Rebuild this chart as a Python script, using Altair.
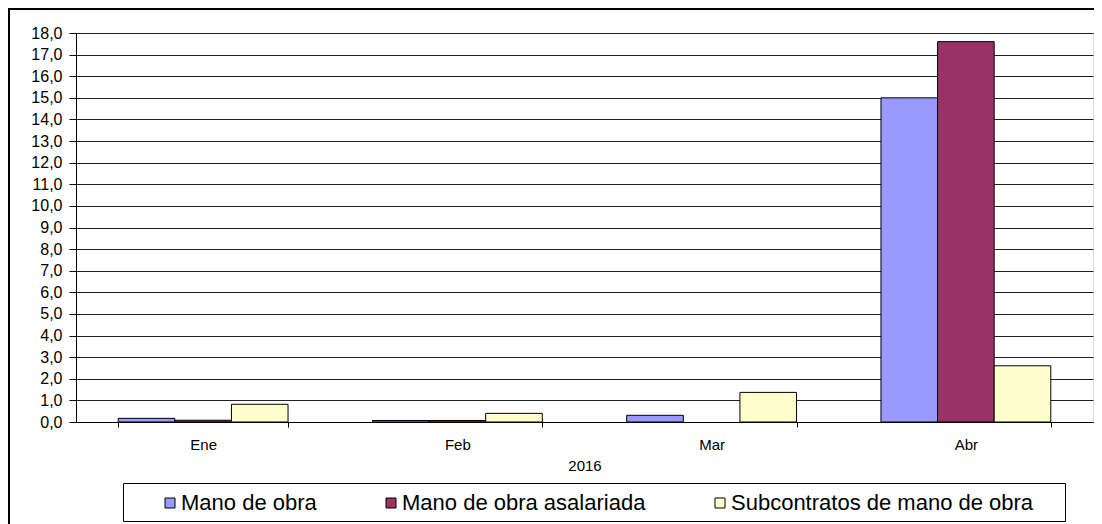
import altair as alt
import pandas as pd

months = ["Ene", "Feb", "Mar", "Abr"]
series = ["Mano de obra", "Mano de obra asalariada", "Subcontratos de mano de obra"]
mano_de_obra = [0.17, 0.07, 0.31, 15.0]
asalariada = [0.08, 0.07, 0.0, 17.6]
subcontratos = [0.82, 0.40, 1.37, 2.6]
colors = ["#9999FF", "#993366", "#FFFFCC"]
y_ticks = list(range(0, 19))

rows = []
for i, m in enumerate(months):
    for s, vals in zip(series, [mano_de_obra, asalariada, subcontratos]):
        rows.append({"mes": m, "serie": s, "valor": vals[i]})
df = pd.DataFrame(rows)

FONT = "Liberation Sans"
W, H = 1017, 389

bars = alt.Chart(df).transform_filter(alt.datum.valor > 0).mark_bar(stroke="black", strokeWidth=1).encode(
    x=alt.X("mes:N", sort=months,
            scale=alt.Scale(domain=months, paddingInner=0.332, paddingOuter=0.166),
            axis=alt.Axis(title="2016", labelAngle=0, tickBand="extent",
                          labelFontSize=15, titleFontSize=15, titleFontWeight="normal",
                          labelPadding=10, titlePadding=6, tickSize=5,
                          domainColor="black", tickColor="black",
                          labelColor="black", titleColor="black",
                          labelFont=FONT, titleFont=FONT)),
    xOffset=alt.XOffset("serie:N", sort=series,
                        scale=alt.Scale(domain=series, paddingInner=0, paddingOuter=0)),
    y=alt.Y("valor:Q", stack=None,
            scale=alt.Scale(domain=[0, 18], nice=False),
            axis=alt.Axis(title=None, values=y_ticks,
                          labelExpr="replace(format(datum.value, '.1f'), '.', ',')",
                          labelFontSize=16, labelFont=FONT, labelColor="black",
                          tickSize=7, labelPadding=7, tickColor="black",
                          domainColor="black", gridColor="#202020", gridWidth=1,
                          grid=True)),
    color=alt.Color("serie:N", sort=series,
                    scale=alt.Scale(domain=series, range=colors),
                    legend=alt.Legend(title=None, orient="none", direction="horizontal",
                                      legendX=80, legendY=459,
                                      symbolType="square", symbolSize=100,
                                      symbolStrokeColor="black", symbolStrokeWidth=1,
                                      symbolOpacity=1, symbolOffset=3,
                                      labelFontSize=22, labelFont=FONT, labelColor="black",
                                      labelOffset=0, columnPadding=60, labelLimit=400)),
)

deco = pd.DataFrame({"k": [0]})
outer = alt.Chart(deco).mark_rect(fill=None, stroke="black", strokeWidth=2).encode(
    x=alt.value(-67), x2=alt.value(1100), y=alt.value(-24), y2=alt.value(600)
)
legend_box = alt.Chart(deco).mark_rect(fill="white", stroke="black", strokeWidth=1).encode(
    x=alt.value(47.5), x2=alt.value(989.5), y=alt.value(450.5), y2=alt.value(488.5)
)

chart = alt.layer(outer, legend_box, bars).properties(
    width=W, height=H,
    autosize=alt.AutoSizeParams(type="none"),
    padding={"left": 68, "top": 25, "right": 1, "bottom": 102},
).configure_view(stroke="#808080", strokeWidth=2).configure(background="white")

chart.save("out.html", embed_options={"renderer": "svg", "actions": False})
